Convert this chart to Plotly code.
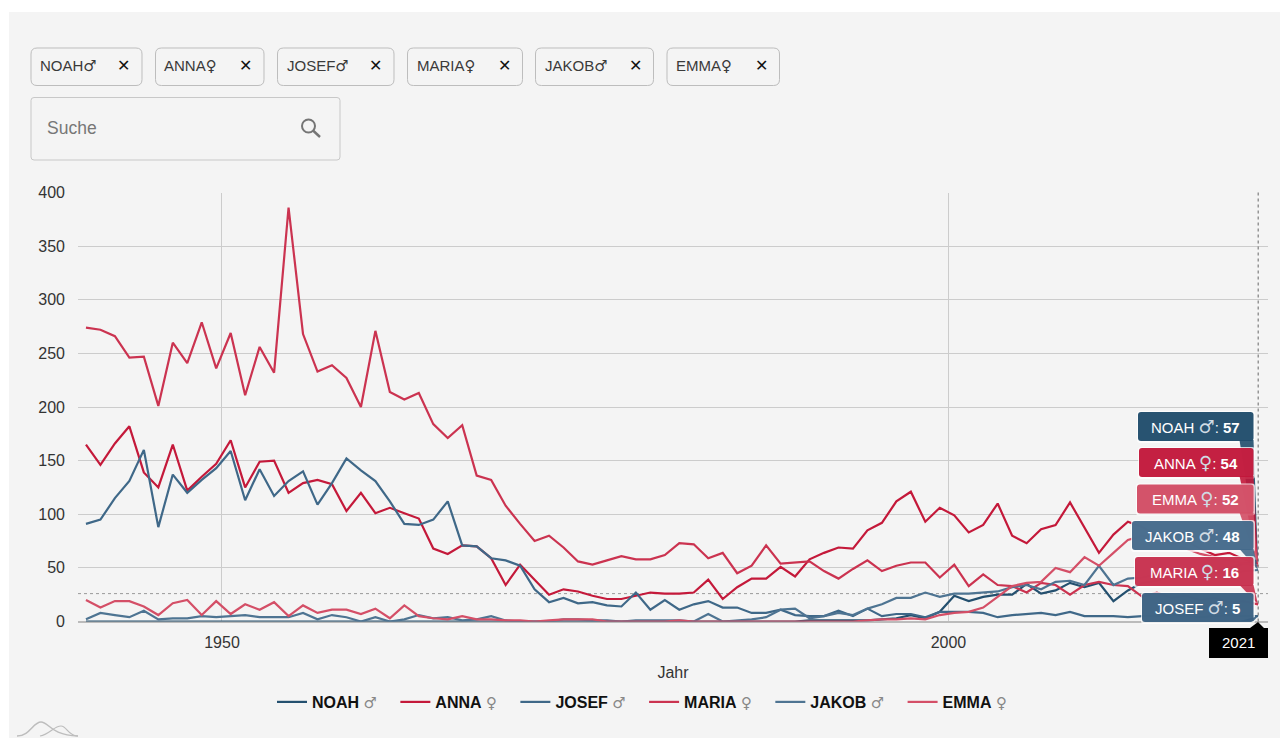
import plotly.graph_objects as go

years = list(range(1940, 2022))
noah = [0,0,0,0,0,0,0,0,0,0,0,0,0,0,0,0,0,0,0,0,0,0,0,0,0,0,0,0,0,0,0,0,0,0,0,0,0,0,0,0,0,0,0,0,0,0,0,0,0,0,1,1,1,1,1,2,3,6,3,9,24,19,23,25,25,35,26,29,36,32,36,19,29,36,38,42,45,40,46,50,54,57]
anna = [165,146,166,182,139,125,165,122,135,147,169,125,149,150,120,129,132,128,103,120,101,106,101,96,68,63,71,70,59,34,53,39,25,30,28,24,21,21,24,27,26,26,27,39,21,32,40,40,51,42,58,64,69,68,85,92,112,121,93,106,99,83,90,110,80,73,86,90,111,88,64,81,93,88,80,72,75,68,62,64,58,54]
josef = [91,95,115,131,160,88,137,120,132,143,159,113,142,117,131,140,109,129,152,141,131,112,91,90,95,112,71,70,59,57,52,30,18,22,17,18,15,14,27,11,20,11,16,19,13,13,8,8,11,6,5,5,10,5,12,5,7,7,4,9,9,9,8,4,6,7,8,6,9,5,5,5,4,5,5,6,5,4,5,6,5,5]
maria = [274,272,266,246,247,201,260,241,279,236,269,211,256,232,386,268,233,239,227,200,271,214,207,213,184,171,183,136,132,108,91,75,80,69,56,53,57,61,58,58,62,73,72,59,64,45,52,71,54,55,56,47,40,49,57,47,52,55,55,41,53,33,44,34,33,27,36,34,25,34,37,34,33,23,27,22,24,20,22,18,19,16]
jakob = [2,8,6,4,10,2,3,3,5,4,5,6,4,4,4,8,2,6,4,0,4,0,2,6,3,4,1,2,5,1,0,0,0,2,2,1,1,0,1,1,1,1,0,7,0,1,2,4,11,12,3,5,8,6,12,16,22,22,27,23,26,26,27,28,32,34,30,37,38,34,52,34,40,41,44,42,45,47,46,44,47,48]
emma = [20,13,19,19,14,6,17,20,6,19,7,16,11,18,5,15,8,11,11,7,12,3,15,5,3,2,5,2,2,1,1,0,1,2,2,2,0,0,0,0,0,1,0,0,0,0,0,0,0,0,0,0,0,0,1,2,2,3,2,6,8,9,13,23,33,36,37,50,46,60,52,64,76,80,77,72,68,63,60,57,54,52]

names = ["NOAH", "ANNA", "JOSEF", "MARIA", "JAKOB", "EMMA"]
genders = ["♂", "♀", "♂", "♀", "♂", "♀"]
series = [noah, anna, josef, maria, jakob, emma]
colors = ["#24506f", "#c4193a", "#3f6888", "#cb3350", "#4e7492", "#d44f67"]
tip_colors = ["#1f4c6b", "#c2173a", "#396081", "#c72f4d", "#44698a", "#d14c64"]
ytick_vals = [0, 50, 100, 150, 200, 250, 300, 350, 400]
xtick_vals = [1949.4, 1999.6]
xtick_text = ["1950", "2000"]
reference_level = 26
current_year = 2021
axis_title = "Jahr"
search_text = "Suche"

W, H = 1280, 738
FONT = "Liberation Sans, Arial, DejaVu Sans, sans-serif"
PX0, PX1, PY0, PY1 = 78, 1268, 192.5, 621.5
px = lambda v: v / W
py = lambda v: 1 - v / H
val_y = lambda v: PY1 - (v / 400) * (PY1 - PY0)
TIP_X = 1258

shapes, ann = [], []


def sym(g, size, color=None):
    c = f"color:{color};" if color else ""
    return f"<span style='font-family:DejaVu Sans;font-size:{size}px;font-weight:normal;{c}'>{g}</span>"


def path_shape(d, fill=None, line=None, lw=1, layer="above", opacity=1):
    s = dict(type="path", path=d, xref="paper", yref="paper", layer=layer, opacity=opacity,
             line=dict(color=line or "rgba(0,0,0,0)", width=lw if line else 0))
    if fill:
        s["fillcolor"] = fill
    shapes.append(s)


def rrect(x0, y0, x1, y1, r):
    X, Y = px, py
    return (f"M{X(x0+r)},{Y(y0)} L{X(x1-r)},{Y(y0)} Q{X(x1)},{Y(y0)} {X(x1)},{Y(y0+r)} "
            f"L{X(x1)},{Y(y1-r)} Q{X(x1)},{Y(y1)} {X(x1-r)},{Y(y1)} L{X(x0+r)},{Y(y1)} "
            f"Q{X(x0)},{Y(y1)} {X(x0)},{Y(y1-r)} L{X(x0)},{Y(y0+r)} Q{X(x0)},{Y(y0)} {X(x0+r)},{Y(y0)} Z")


def text(x, y, s, size=14, color="#333", anchor="left", family=FONT):
    ann.append(dict(x=px(x), y=py(y), xref="paper", yref="paper", text=s, showarrow=False,
                    xanchor=anchor, yanchor="middle", font=dict(size=size, color=color, family=family)))


# page panel
path_shape(f"M{px(9)},{py(12)} L1,{py(12)} L1,0 L{px(9)},0 Z", fill="#f4f4f4", layer="below")

# name chips
chips = [(31, 142, 38, 123), (155.5, 264, 162, 245), (277.5, 394, 285, 375.5),
         (407.5, 522.5, 415, 504), (535.5, 653.5, 543, 635), (667, 779.5, 674, 761)]
for (x0, x1, tx, cx), n, g in zip(chips, names, genders):
    path_shape(rrect(x0, 48, x1, 85.5, 6), line="#bdbdbd", lw=1, layer="below")
    text(tx, 66, f"{n}{sym(g, 15)}", size=15, color="#3a3a3a")
    text(cx, 65.5, "<b>✕</b>", size=16, color="#111", anchor="center", family="DejaVu Sans")

# search box
path_shape(rrect(31, 97.5, 340, 160, 3), line="#c8c8c8", lw=1, layer="below")
text(44.5, 128, search_text, size=17.5, color="#777")
shapes.append(dict(type="circle", xref="paper", yref="paper", x0=px(302), x1=px(315), y0=py(132.5), y1=py(119.5),
                   line=dict(color="#757575", width=2)))
path_shape(f"M{px(313)},{py(130.5)} L{px(320)},{py(137)}", line="#757575", lw=2.4)

# sparkline glyph
path_shape(f"M{px(17)},{py(736)} C{px(30)},{py(736)} {px(33)},{py(722)} {px(41)},{py(722)} "
           f"C{px(49)},{py(722)} {px(50)},{py(735)} {px(78)},{py(736)}", line="#bdbdbd", lw=1.5, layer="below")
path_shape(f"M{px(40)},{py(736)} C{px(50)},{py(734)} {px(54)},{py(726)} {px(61)},{py(726)} "
           f"C{px(67)},{py(726)} {px(68)},{py(736)} {px(78)},{py(736)}", line="#bdbdbd", lw=1.2, layer="below")

# crosshair + reference line
shapes.append(dict(type="line", xref="paper", yref="y", x0=px(PX0), x1=px(PX1), y0=reference_level, y1=reference_level,
                   line=dict(color="#999", width=1, dash="3px,3px"), layer="below"))
shapes.append(dict(type="line", xref="x", yref="paper", x0=current_year, x1=current_year, y0=py(PY1), y1=py(PY0),
                   line=dict(color="#666", width=1, dash="3px,3px"), layer="above"))

# tooltips
tips = [("NOAH", 1138, 412), ("ANNA", 1139, 448), ("EMMA", 1137, 484.5),
        ("JAKOB", 1132, 521), ("MARIA", 1135, 557), ("JOSEF", 1142, 593)]
for n, x0, y0 in tips:
    i = names.index(n)
    x1, y1 = 1253.5, y0 + 29
    tip_y = val_y(series[i][-1])
    path_shape(rrect(x0 - 1, y0 - 1, x1 + 1.5, y1 + 2, 3), fill="#ffffff", opacity=0.75)
    path_shape(f"M{px(x1-14)},{py(y1-1)} L{px(x1)},{py(y1-1)} L{px(TIP_X)},{py(tip_y)} Z", fill=tip_colors[i], opacity=0.9)
    path_shape(rrect(x0, y0, x1, y1, 3), fill=tip_colors[i], opacity=0.96)
    text((x0 + x1) / 2, (y0 + y1) / 2, f"{n} {sym(genders[i], 18, '#d0dbe3')}: <b>{series[i][-1]}</b>", size=15, color="#fff", anchor="center")

# year flag
path_shape(f"M{px(1209)},{py(628)} L{px(1250)},{py(628)} L{px(1258)},{py(622)} L{px(1264)},{py(628)} "
           f"L{px(1268)},{py(628)} L{px(1268)},{py(658)} L{px(1209)},{py(658)} Z", fill="#000000")
text(1238, 642.5, str(current_year), size=15, color="#fff", anchor="center")

fig = go.Figure()
pad = "\u00a0" * 3
for n, g, ys, c in zip(names, genders, series, colors):
    fig.add_trace(go.Scatter(x=years, y=ys, mode="lines", line=dict(color=c, width=2.2),
                             name=f"<b>{n}</b> {sym(g, 15, '#888')}{pad}"))

fig.update_layout(
    width=W, height=H, margin=dict(l=0, r=0, t=0, b=0, autoexpand=False), autosize=False,
    paper_bgcolor="#ffffff", plot_bgcolor="rgba(0,0,0,0)",
    font=dict(family=FONT, size=14, color="#333"),
    shapes=shapes, annotations=ann, hovermode=False,
    legend=dict(orientation="h", x=px(272), xanchor="left", y=py(702), yanchor="middle",
                font=dict(size=16, color="#111", family=FONT), itemwidth=30,
                bgcolor="rgba(0,0,0,0)"),
    xaxis=dict(domain=[px(PX0), px(PX1)], range=[1939.45, 2021.68], tickmode="array",
               tickvals=xtick_vals, ticktext=xtick_text, showgrid=True, gridcolor="#cccccc", gridwidth=1,
               zeroline=False, showline=False, ticks="", tickfont=dict(size=16, color="#333"), ticklabelstandoff=9,
               automargin=False,
               title=dict(text=axis_title, standoff=17, font=dict(size=16, color="#333"))),
    yaxis=dict(domain=[py(PY1), py(PY0)], range=[0, 400], tickmode="array", tickvals=ytick_vals,
               showgrid=True, gridcolor="#cccccc", gridwidth=1, zeroline=True, zerolinecolor="#bbbbbb",
               automargin=False, ticklabelstandoff=12,
               ticks="", tickfont=dict(size=16, color="#333"), showline=False),
)

fig.write_html("out.html", config=dict(displayModeBar=False),
               post_script="document.body.style.margin='0';document.body.style.overflow='hidden';")
